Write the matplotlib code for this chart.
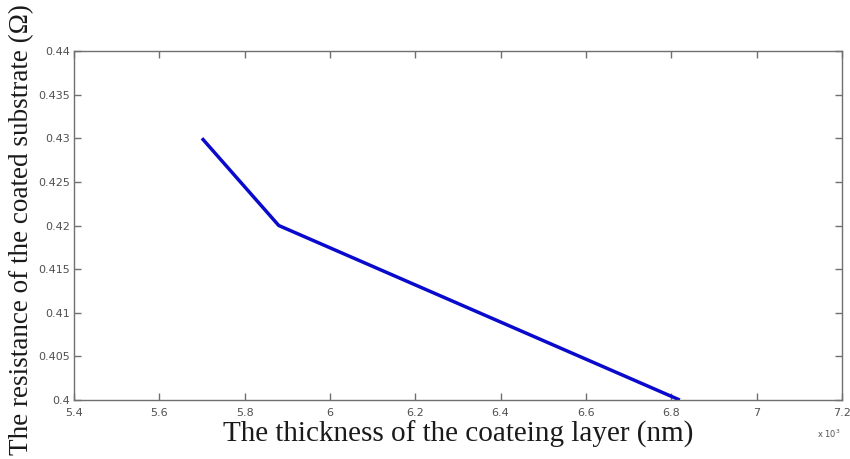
import numpy as np
import matplotlib.pyplot as plt
from matplotlib.ticker import FuncFormatter

# dados
thickness_nm = np.array([5700, 5880, 6820])
resistance = np.array([0.430, 0.420, 0.400])

x_ticks = np.arange(5.4, 7.21, 0.2)
y_ticks = np.arange(0.400, 0.4401, 0.005)

fig = plt.figure(figsize=(8.5, 4.59), dpi=100)
ax = fig.add_axes([0.087, 0.1285, 0.9035, 0.7604])

ax.plot(thickness_nm / 1e3, resistance, color='#0a0acc', linewidth=2.5,
        solid_capstyle='butt')

ax.set_xlim(5.4, 7.2)
ax.set_ylim(0.4, 0.44)
ax.set_xticks(x_ticks)
ax.set_yticks(y_ticks)
ax.xaxis.set_major_formatter(FuncFormatter(lambda v, p: f'{round(v, 2):g}'))
ax.yaxis.set_major_formatter(FuncFormatter(lambda v, p: f'{round(v, 3):g}'))

for s in ax.spines.values():
    s.set_color('#707070')
    s.set_linewidth(1.0)
ax.tick_params(direction='in', length=5, width=1.0, color='#707070',
               top=True, right=True, labelsize=8, labelcolor='#505050')
ax.tick_params(axis='x', pad=6)
ax.tick_params(axis='y', pad=3)

# rótulos dos eixos
fig.text(0.539, 0.037, 'The thickness of the coateing layer (nm)',
         family='Liberation Serif', fontsize=21, ha='center', va='baseline',
         color='#1a1a1a')
fig.text(0.026, 0.5, 'The resistance of the coated substrate (\u03a9)',
         family='Liberation Serif', fontsize=19.5, ha='center', va='center',
         rotation=90, color='#1a1a1a')
fig.text(0.975, 0.045, r'x 10$^3$', fontsize=6, color='#505050',
         ha='center', va='baseline')

fig.savefig('out.png', dpi=100, facecolor='white')
